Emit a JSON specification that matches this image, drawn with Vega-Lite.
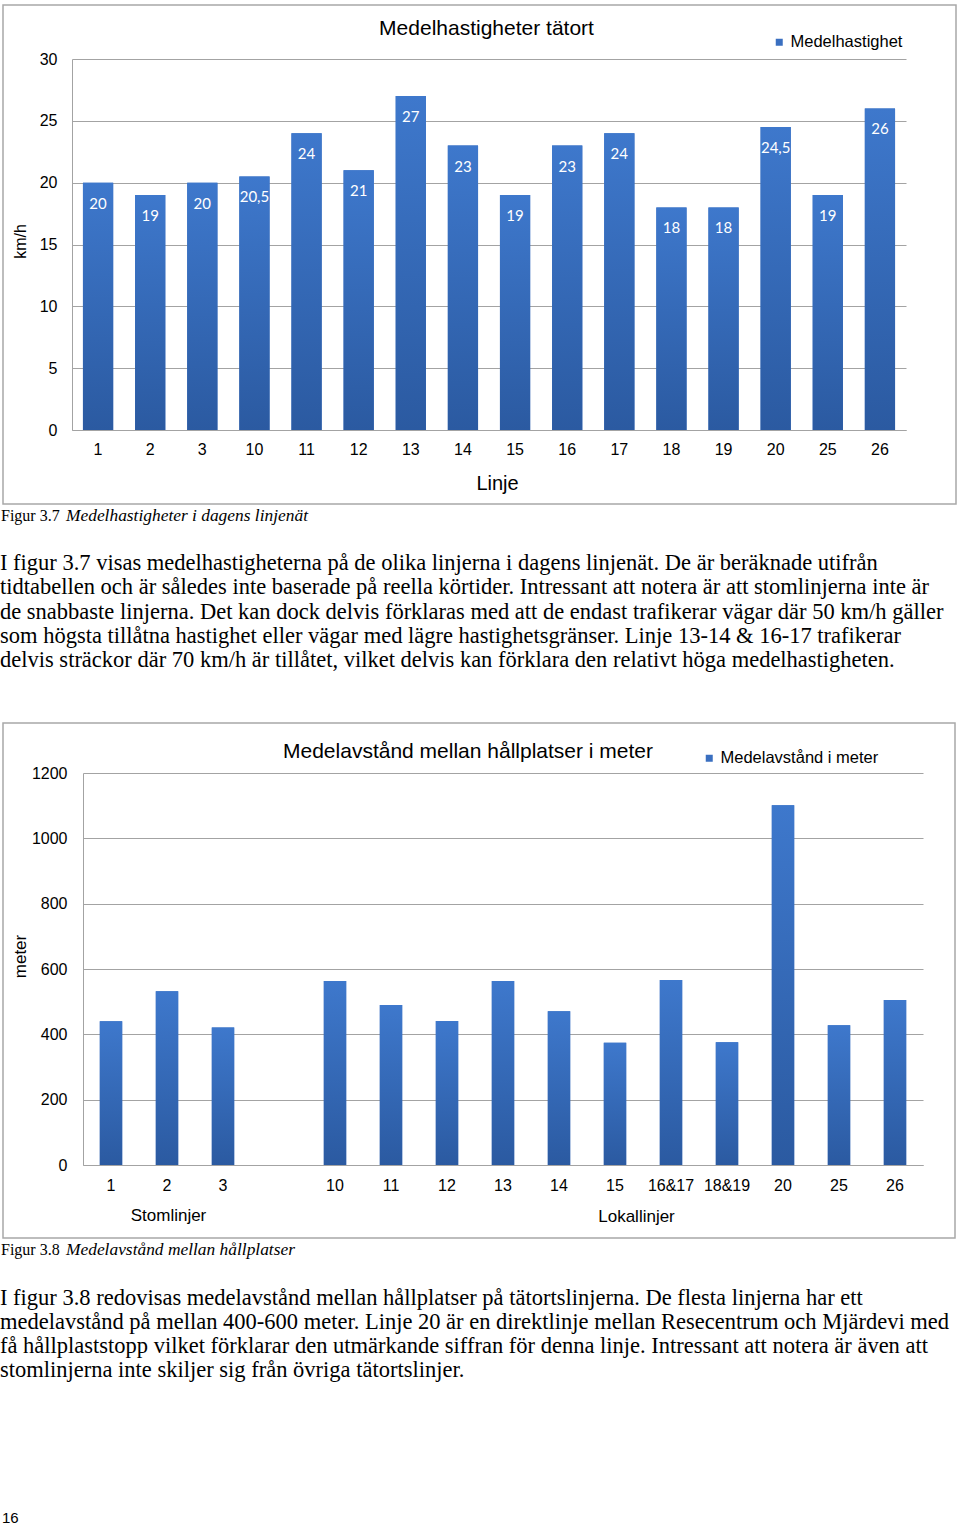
{
  "$schema": "https://vega.github.io/schema/vega-lite/v6.json",
  "padding": {"left": 0, "top": 4, "right": 0, "bottom": 0},
  "spacing": 0,
  "bounds": "flush",
  "background": "white",
  "resolve": {"scale": {"color": "independent"}, "legend": {"color": "independent"}},
  "config": {
    "view": {"stroke": null},
    "locale": {"number": {"decimal": ",", "thousands": " ", "grouping": [3], "currency": ["", " kr"]}},
    "axis": {"labelFont": "Liberation Sans", "titleFont": "Liberation Sans", "labelColor": "#000000", "titleColor": "#000000", "titleFontWeight": "normal", "ticks": false, "tickSize": 0, "domainColor": "#a3a3a3", "gridColor": "#a3a3a3", "labelFlush": false, "labelOverlap": false, "labelBound": false},
    "legend": {"labelFont": "Liberation Sans", "labelColor": "#000000"},
    "title": {"font": "Liberation Sans", "color": "#000000", "fontWeight": "normal"}
  },
  "vconcat": [
    {
      "width": 953,
      "height": 499,
      "view": {"stroke": "#a8a8a8", "strokeWidth": 1.5},
      "title": {"text": "Medelhastigheter tätort", "fontSize": 21, "anchor": "middle", "baseline": "middle", "offset": -45, "dx": 7},
      "data": {"values": [
        {"linje": "1", "v": 20}, {"linje": "2", "v": 19}, {"linje": "3", "v": 20}, {"linje": "10", "v": 20.5},
        {"linje": "11", "v": 24}, {"linje": "12", "v": 21}, {"linje": "13", "v": 27}, {"linje": "14", "v": 23},
        {"linje": "15", "v": 19}, {"linje": "16", "v": 23}, {"linje": "17", "v": 24}, {"linje": "18", "v": 18},
        {"linje": "19", "v": 18}, {"linje": "20", "v": 24.5}, {"linje": "25", "v": 19}, {"linje": "26", "v": 26}
      ]},
      "encoding": {
        "x": {"field": "linje", "type": "ordinal", "sort": null,
          "scale": {"range": [69, 903], "paddingInner": 0.42, "paddingOuter": 0.21},
          "axis": {"offset": -74, "labelAngle": 0, "labelPadding": 11, "labelFontSize": 16, "grid": false,
            "title": "Linje", "titleFontSize": 20, "titleX": 494, "titleY": 53, "titleAlign": "center", "titleBaseline": "middle"}},
        "y": {"field": "v", "type": "quantitative",
          "scale": {"domain": [0, 30], "range": [425, 54], "nice": false, "zero": true},
          "axis": {"values": [0, 5, 10, 15, 20, 25, 30], "format": "d", "offset": -69, "labelPadding": 15, "labelFontSize": 16, "grid": true,
            "title": "km/h", "titleFontSize": 16, "titleX": -52, "titleY": 236, "titleAngle": -90, "titleAlign": "center", "titleBaseline": "middle"}}
      },
      "layer": [
        {"mark": {"type": "bar"},
          "encoding": {"color": {"datum": "Medelhastighet", "type": "nominal", "scale": {"range": ["#3a6fc0"]},
            "legend": {"orient": "none", "legendX": 768, "legendY": 29, "title": null, "symbolType": "square", "symbolSize": 49, "symbolStrokeWidth": 0, "labelFontSize": 16.5, "labelOffset": 3, "padding": 0}}}},
        {"mark": {"type": "bar", "color": {"gradient": "linear", "x1": 0, "y1": 0, "x2": 0, "y2": 1, "stops": [{"offset": 0, "color": "#3e78cc"}, {"offset": 1, "color": "#2b5aa1"}]}}},
        {"mark": {"type": "text", "color": "#ffffff", "font": "Lato", "fontSize": 15, "baseline": "middle", "dy": 21},
          "encoding": {"text": {"field": "v", "type": "quantitative", "format": ".3~r"}}}
      ]
    },
    {
      "width": 950,
      "height": 219,
      "data": {"values": [
        {"rad": "cap", "text": "Figur 3.7", "kursiv": "Medelhastigheter i dagens linjenät"},
        {"rad": "1", "text": "I figur 3.7 visas medelhastigheterna på de olika linjerna i dagens linjenät. De är beräknade utifrån"},
        {"rad": "2", "text": "tidtabellen och är således inte baserade på reella körtider. Intressant att notera är att stomlinjerna inte är"},
        {"rad": "3", "text": "de snabbaste linjerna. Det kan dock delvis förklaras med att de endast trafikerar vägar där 50 km/h gäller"},
        {"rad": "4", "text": "som högsta tillåtna hastighet eller vägar med lägre hastighetsgränser. Linje 13-14 & 16-17 trafikerar"},
        {"rad": "5", "text": "delvis sträckor där 70 km/h är tillåtet, vilket delvis kan förklara den relativt höga medelhastigheten."}
      ]},
      "encoding": {
        "x": {"datum": 0, "type": "quantitative", "scale": {"domain": [0, 1]}, "axis": null},
        "y": {"field": "rad", "type": "ordinal", "scale": {"type": "point", "padding": 0.5, "domain": ["cap", "gap", "1", "2", "3", "4", "5", "e1", "e2"]}, "axis": null}
      },
      "layer": [
        {"transform": [{"filter": "datum.rad === 'cap'"}],
          "mark": {"type": "text", "align": "left", "baseline": "middle", "font": "Liberation Serif", "fontSize": 16, "color": "#000000", "dx": -2},
          "encoding": {"text": {"field": "text"}}},
        {"transform": [{"filter": "datum.rad === 'cap'"}],
          "mark": {"type": "text", "align": "left", "baseline": "middle", "font": "Liberation Serif", "fontStyle": "italic", "fontSize": 17.4, "color": "#000000", "dx": 63},
          "encoding": {"text": {"field": "kursiv"}}},
        {"transform": [{"filter": "datum.rad !== 'cap'"}],
          "mark": {"type": "text", "align": "left", "baseline": "middle", "font": "Liberation Serif", "fontSize": 22.5, "color": "#000000", "dx": -3, "dy": -2},
          "encoding": {"text": {"field": "text"}}}
      ]
    },
    {
      "width": 952,
      "height": 515,
      "view": {"stroke": "#a8a8a8", "strokeWidth": 1.5},
      "title": {"text": "Medelavstånd mellan hållplatser i meter", "fontSize": 21, "anchor": "middle", "baseline": "middle", "offset": -50, "dx": -11},
      "data": {"values": [
        {"linje": "1", "m": 440}, {"linje": "2", "m": 532}, {"linje": "3", "m": 421},
        {"linje": "10", "m": 563}, {"linje": "11", "m": 490}, {"linje": "12", "m": 441}, {"linje": "13", "m": 563},
        {"linje": "14", "m": 471}, {"linje": "15", "m": 374}, {"linje": "16&17", "m": 566}, {"linje": "18&19", "m": 376},
        {"linje": "20", "m": 1101}, {"linje": "25", "m": 428}, {"linje": "26", "m": 505}
      ]},
      "encoding": {
        "y": {"field": "m", "type": "quantitative",
          "scale": {"domain": [0, 1200], "range": [442, 50], "nice": false, "zero": true},
          "axis": {"values": [0, 200, 400, 600, 800, 1000, 1200], "format": "d", "offset": -80, "labelPadding": 16, "labelFontSize": 16, "grid": true,
            "title": "meter", "titleFontSize": 17, "titleX": -63, "titleY": 233, "titleAngle": -90, "titleAlign": "center", "titleBaseline": "middle"}}
      },
      "layer": [
        {"mark": {"type": "bar"},
          "encoding": {
            "x": {"field": "linje", "type": "ordinal",
              "scale": {"domain": ["1", "2", "3", " ", "10", "11", "12", "13", "14", "15", "16&17", "18&19", "20", "25", "26"], "range": [80, 920], "paddingInner": 0.6, "paddingOuter": 0.3},
              "axis": {"orient": "bottom", "offset": -73, "labelAngle": 0, "labelPadding": 12, "labelFontSize": 16, "grid": false,
                "title": "Lokallinjer", "titleFontSize": 17, "titleX": 633, "titleY": 51, "titleAlign": "center", "titleBaseline": "middle"}},
            "color": {"datum": "Medelavstånd i meter", "type": "nominal", "scale": {"range": ["#3a6fc0"]},
              "legend": {"orient": "none", "legendX": 698, "legendY": 27, "title": null, "symbolType": "square", "symbolSize": 49, "symbolStrokeWidth": 0, "labelFontSize": 16.5, "labelOffset": 3, "padding": 0}}}},
        {"mark": {"type": "bar", "color": {"gradient": "linear", "x1": 0, "y1": 0, "x2": 0, "y2": 1, "stops": [{"offset": 0, "color": "#3e78cc"}, {"offset": 1, "color": "#2b5aa1"}]}},
          "encoding": {
            "x": {"field": "linje", "type": "ordinal",
              "scale": {"domain": ["1", "2", "3", " ", "10", "11", "12", "13", "14", "15", "16&17", "18&19", "20", "25", "26"], "range": [80, 920], "paddingInner": 0.6, "paddingOuter": 0.3},
              "axis": {"orient": "bottom", "offset": -73, "labels": false, "domain": false, "grid": false,
                "title": "Stomlinjer", "titleFontSize": 17, "titleX": 165, "titleY": 50, "titleAlign": "center", "titleBaseline": "middle"}}}}
      ],
      "resolve": {"axis": {"x": "independent"}}
    },
    {
      "width": 950,
      "height": 287,
      "data": {"values": [
        {"rad": "cap", "text": "Figur 3.8", "kursiv": "Medelavstånd mellan hållplatser"},
        {"rad": "1", "text": "I figur 3.8 redovisas medelavstånd mellan hållplatser på tätortslinjerna. De flesta linjerna har ett"},
        {"rad": "2", "text": "medelavstånd på mellan 400-600 meter. Linje 20 är en direktlinje mellan Resecentrum och Mjärdevi med"},
        {"rad": "3", "text": "få hållplaststopp vilket förklarar den utmärkande siffran för denna linje. Intressant att notera är även att"},
        {"rad": "4", "text": "stomlinjerna inte skiljer sig från övriga tätortslinjer."},
        {"rad": "sid", "text": "16"}
      ]},
      "encoding": {
        "x": {"datum": 0, "type": "quantitative", "scale": {"domain": [0, 1]}, "axis": null},
        "y": {"field": "rad", "type": "ordinal", "scale": {"type": "point", "padding": 0.5, "domain": ["cap", "gap", "1", "2", "3", "4", "g1", "g2", "g3", "g4", "g5", "sid"]}, "axis": null}
      },
      "layer": [
        {"transform": [{"filter": "datum.rad === 'cap'"}],
          "mark": {"type": "text", "align": "left", "baseline": "middle", "font": "Liberation Serif", "fontSize": 16, "color": "#000000", "dx": -2},
          "encoding": {"text": {"field": "text"}}},
        {"transform": [{"filter": "datum.rad === 'cap'"}],
          "mark": {"type": "text", "align": "left", "baseline": "middle", "font": "Liberation Serif", "fontStyle": "italic", "fontSize": 17.4, "color": "#000000", "dx": 63},
          "encoding": {"text": {"field": "kursiv"}}},
        {"transform": [{"filter": "datum.rad !== 'cap' && datum.rad !== 'sid'"}],
          "mark": {"type": "text", "align": "left", "baseline": "middle", "font": "Liberation Serif", "fontSize": 22.5, "color": "#000000", "dx": -3, "dy": 0},
          "encoding": {"text": {"field": "text"}}},
        {"transform": [{"filter": "datum.rad === 'sid'"}],
          "mark": {"type": "text", "align": "left", "baseline": "middle", "font": "Liberation Sans", "fontSize": 15, "color": "#000000", "dx": -1, "dy": 5},
          "encoding": {"text": {"field": "text"}}}
      ]
    }
  ]
}
